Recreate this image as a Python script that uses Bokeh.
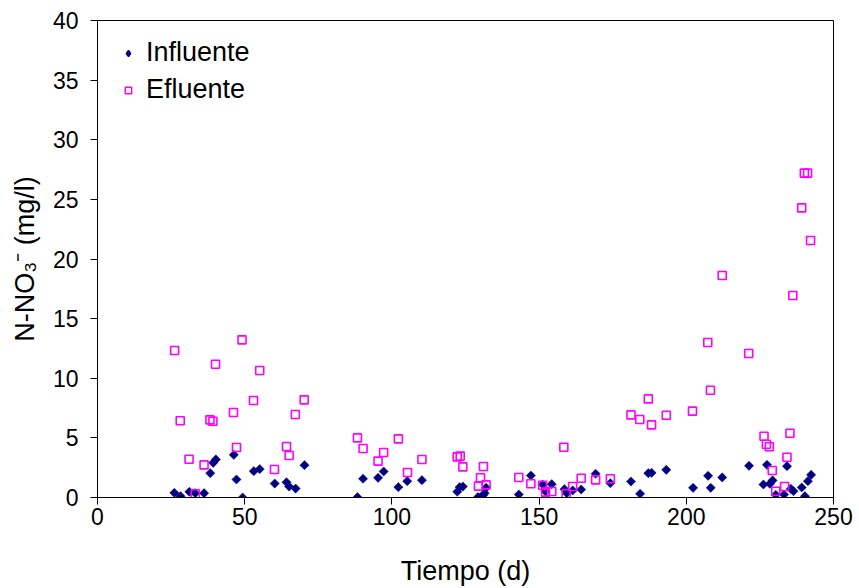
import numpy as np
from bokeh.plotting import figure
from bokeh.models import Range1d, FixedTicker, Legend, LegendItem
from bokeh.embed import file_html
from bokeh.resources import INLINE

# Influente (diamonds)
inf_day = [26.1, 28.2, 31.2, 33.2, 36.2, 38.3, 39.3, 40.2, 46.3, 47.2, 49.3, 53.1, 55.1,
           60.2, 64.2, 65.1, 67.3, 70.3, 88.3, 90.2, 95.3, 97.2, 102.2, 105.2, 110.2,
           122.2, 123.0, 124.1, 129.2, 129.9, 130.9, 131.5, 132.0, 143.1, 147.2, 151.2,
           152.2, 154.3, 158.6, 159.4, 161.4, 164.3, 169.2, 174.2, 181.2, 184.3, 187.1,
           188.2, 193.2, 202.3, 207.4, 208.3, 212.2, 221.3, 226.2, 227.4, 228.4, 229.3,
           230.4, 233.2, 234.2, 235.5, 236.4, 239.2, 240.3, 241.3, 242.4]
inf_val = [0.39, 0.11, 0.48, 0.36, 0.36, 2.04, 2.91, 3.19, 3.58, 1.51, 0.0, 2.21, 2.38,
           1.17, 1.28, 0.92, 0.75, 2.71, 0.03, 1.57, 1.65, 2.18, 0.87, 1.37, 1.45,
           0.48, 0.87, 0.92, 0.03, 0.0, 0.17, 0.36, 0.81, 0.25, 1.84, 1.09,
           0.50, 1.12, 0.70, 0.36, 0.59, 0.67, 1.99, 1.20, 1.34, 0.31, 2.04,
           2.07, 2.32, 0.81, 1.82, 0.81, 1.68, 2.66, 1.09, 2.74, 1.15, 1.43,
           0.22, 0.25, 2.63, 0.73, 0.53, 0.84, 0.11, 1.37, 1.90]

# Efluente (open squares)
ef_day = [26.2, 28.1, 31.1, 33.2, 36.2, 38.2, 39.2, 40.1, 46.2, 47.2, 49.1, 53.0, 55.1,
          60.1, 64.2, 65.1, 67.2, 70.2, 88.3, 90.2, 95.3, 97.2, 102.2, 105.3, 110.2,
          122.2, 123.2, 124.1, 129.4, 130.1, 131.1, 132.0, 143.1, 147.2, 151.2, 152.2,
          154.3, 158.4, 159.2, 161.4, 164.3, 169.2, 174.2, 181.2, 184.2, 187.1, 188.2,
          193.2, 202.1, 207.3, 208.2, 212.2, 221.2, 226.4, 227.2, 228.2, 229.2, 230.4,
          233.4, 234.2, 235.2, 236.2, 239.2, 240.1, 241.2, 242.2]
ef_val = [12.33, 6.43, 3.21, 0.31, 2.74, 6.51, 6.40, 11.18, 7.13, 4.19, 13.22, 8.13, 10.65,
          2.35, 4.28, 3.52, 6.96, 8.19, 5.0, 4.11, 3.05, 3.77, 4.92, 2.10, 3.19,
          3.41, 3.47, 2.57, 0.95, 1.65, 2.60, 1.06, 1.68, 1.15, 1.03, 0.45,
          0.50, 4.22, 0.31, 0.92, 1.62, 1.48, 1.57, 6.93, 6.54, 8.27, 6.09,
          6.90, 7.24, 13.0, 9.0, 18.62, 12.08, 5.14, 4.47, 4.25, 2.26, 0.53,
          0.92, 3.38, 5.39, 16.94, 24.29, 27.2, 27.2, 21.55]

x_ticks = [0, 50, 100, 150, 200, 250]
y_ticks = [0, 5, 10, 15, 20, 25, 30, 35, 40]

FONT = "Liberation Sans"
NAVY = "#000080"
MAGENTA = "#FF00FF"

p = figure(width=859, height=588, output_backend="svg", toolbar_location=None,
           x_range=Range1d(0, 250), y_range=Range1d(0, 40),
           min_border_left=97, min_border_right=26, min_border_top=20,
           min_border_bottom=91, background_fill_color="white",
           border_fill_color="white")

r_inf = p.scatter(inf_day, inf_val, marker="square", angle=np.pi / 4, size=6.5,
                  fill_color=NAVY, line_color=NAVY, line_width=0.5)
r_ef = p.scatter(ef_day, ef_val, marker="square", size=8, fill_alpha=0,
                 line_color=MAGENTA, line_width=1.6)

# hidden legend proxies (legend glyphs ignore marker angle)
leg_inf = p.scatter(inf_day[:1], inf_val[:1], marker="diamond", fill_color=NAVY,
                    line_color=NAVY, line_width=1.5, visible=False)
leg_ef = p.scatter(ef_day[:1], ef_val[:1], marker="square", fill_alpha=0,
                   line_color=MAGENTA, line_width=1.4, visible=False)

p.xgrid.visible = False
p.ygrid.visible = False
p.outline_line_color = "black"
p.outline_line_width = 1

for ax in (p.xaxis[0], p.yaxis[0]):
    ax.major_tick_in = 0
    ax.major_tick_out = 7
    ax.minor_tick_in = 0
    ax.minor_tick_out = 0
    ax.axis_line_color = "black"
    ax.major_tick_line_color = "black"
    ax.major_label_text_font = FONT
    ax.major_label_text_font_size = "23px"
    ax.major_label_text_color = "black"
    ax.axis_label_text_font = FONT
    ax.axis_label_text_font_size = "27px"
    ax.axis_label_text_font_style = "normal"
    ax.axis_label_text_color = "black"

p.xaxis[0].ticker = FixedTicker(ticks=x_ticks)
p.yaxis[0].ticker = FixedTicker(ticks=y_ticks)
p.xaxis[0].axis_label = "Tiempo (d)"
p.yaxis[0].axis_label = "N-NO₃⁻ (mg/l)"
p.xaxis[0].major_label_standoff = 3
p.yaxis[0].major_label_standoff = 12
p.xaxis[0].axis_label_standoff = 28
p.yaxis[0].axis_label_standoff = 10

lg = Legend(items=[LegendItem(label="Influente", renderers=[leg_inf]),
                   LegendItem(label="Efluente", renderers=[leg_ef])],
            location="top_left")
lg.border_line_color = None
lg.background_fill_alpha = 0
lg.margin = 17
lg.padding = 8
lg.glyph_width = 28
lg.glyph_height = 16
lg.label_height = 30
lg.spacing = 6
lg.label_standoff = 4
lg.label_text_font = FONT
lg.label_text_font_size = "27px"
lg.label_text_color = "black"
p.add_layout(lg)

open("out.html", "w").write(file_html(p, INLINE))
